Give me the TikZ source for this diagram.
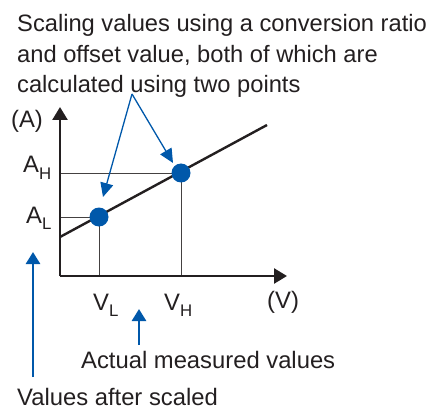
\documentclass[tikz,border=0pt]{standalone}
\usepackage{fontspec}
\setmainfont{Liberation Sans}
\usetikzlibrary{arrows.meta}
\definecolor{ink}{RGB}{35,31,32}
\definecolor{blu}{RGB}{0,88,170}
\tikzset{
  txt/.style={inner sep=0pt, anchor=base west, text=ink, font=\fontsize{23.8}{28}\selectfont},
  toptxt/.style={txt, font=\fontsize{23.7}{28}\selectfont},
  axis/.style={line width=2.6pt, draw=ink, -{Triangle[length=13pt,width=15pt]}},
  guide/.style={line width=0.9pt, draw=ink!85},
  graphline/.style={line width=2.4pt, draw=ink},
  dot/.style={circle, fill=blu, inner sep=0pt, minimum size=19pt},
  thinblue/.style={line width=1.3pt, draw=blu, -{Triangle[length=14pt,width=13pt]}},
  thickblue/.style={line width=2.6pt, draw=blu, -{Triangle[length=12pt,width=14pt]}},
}
\newcommand{\subfnt}{\fontsize{16.8}{18}\selectfont}
\begin{document}
\begin{tikzpicture}[x=1pt,y=-1pt]
\useasboundingbox (0,0) rectangle (442,409);
% coordinates
\coordinate (O) at (60,276);
\coordinate (ytip) at (60,107);
\coordinate (xtip) at (287,276);
\coordinate (l0) at (60,237);
\coordinate (l1) at (267,125);
\coordinate (aH) at (60,173);
\coordinate (aL) at (60,217);
\coordinate (vH) at (181,276);
\coordinate (vL) at (99,276);
\coordinate (apex) at (132,94);
\coordinate (tipL) at (103,197);
\coordinate (tipH) at (173,163);
\coordinate (act0) at (139,345);
\coordinate (act1) at (139,309);
\coordinate (sc0) at (33,377);
\coordinate (sc1) at (33,252);
% guides
\draw[guide] (aH) -- (181,173) -- (vH);
\draw[guide] (aL) -- (99,217) -- (vL);
% axes
\draw[axis] (O) -- (ytip);
\draw[axis] (O) -- (xtip);
% graph line
\draw[graphline] (l0) -- (l1);
% dots
\node[dot] (pL) at (99,217) {};
\node[dot] (pH) at (181,173) {};
% blue arrows
\draw[thinblue] (apex) -- (tipL);
\draw[thinblue] (apex) -- (tipH);
\draw[thickblue] (act0) -- (act1);
\draw[thickblue] (sc0) -- (sc1);
% texts
\node[toptxt] (t1) at (17,32) {Scaling values using a conversion ratio};
\node[toptxt] (t2) at (17,63) {and offset value, both of which are};
\node[toptxt] (t3) at (17,93) {calculated using two points};
\node[txt] (lA) at (11,128) {(A)};
\node[txt] (lAH) at (23,173) {A\raisebox{-7pt}{\subfnt H}};
\node[txt] (lAL) at (26,223) {A\raisebox{-6pt}{\subfnt L}};
\node[txt] (lVL) at (93,310) {V\raisebox{-6pt}{\subfnt L}};
\node[txt] (lVH) at (164,310) {V\raisebox{-6pt}{\subfnt H}};
\node[txt] (lV) at (267,308) {(V)};
\node[txt] (act) at (81,368) {Actual measured values};
\node[txt] (sc) at (17,405) {Values after scaled};
\end{tikzpicture}
\end{document}
